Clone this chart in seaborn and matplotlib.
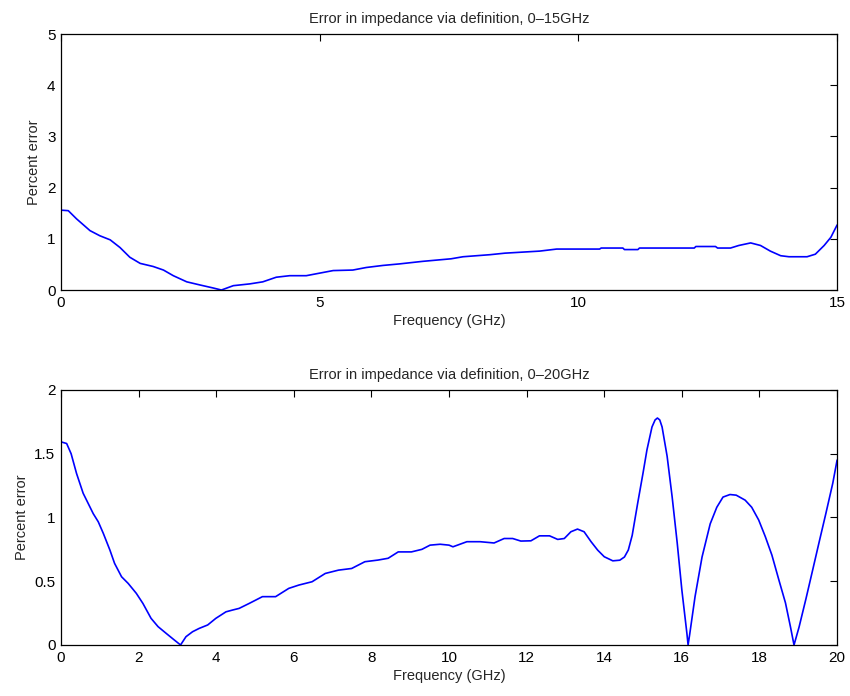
import numpy as np
import pandas as pd
import matplotlib
matplotlib.use("Agg")
import matplotlib.pyplot as plt
import seaborn as sns

# ---- data: 0-15 GHz run ----
freq_15 = [0.0, 0.14, 0.3, 0.56, 0.75, 0.95, 1.14, 1.33, 1.53, 1.78, 1.98, 2.17, 2.43, 2.68,
           2.94, 3.1, 3.33, 3.65, 3.9, 4.16, 4.42, 4.74, 5.0, 5.26, 5.64, 5.9, 6.22, 6.54,
           6.99, 7.54, 7.77, 8.29, 8.58, 9.25, 9.58, 10.41, 10.44, 10.86, 10.89, 11.15, 11.18,
           12.24, 12.27, 12.65, 12.69, 12.94, 13.1, 13.33, 13.52, 13.71, 13.91, 14.07, 14.42,
           14.58, 14.75, 14.88, 15.0]
err_15 = [1.56, 1.55, 1.39, 1.16, 1.06, 0.98, 0.83, 0.64, 0.52, 0.46, 0.39, 0.28, 0.16, 0.10,
          0.04, 0.0, 0.085, 0.12, 0.16, 0.25, 0.28, 0.28, 0.33, 0.38, 0.39, 0.44, 0.48, 0.51,
          0.56, 0.61, 0.65, 0.69, 0.72, 0.76, 0.80, 0.80, 0.82, 0.82, 0.79, 0.79, 0.82,
          0.82, 0.85, 0.85, 0.82, 0.82, 0.87, 0.92, 0.87, 0.76, 0.67, 0.65, 0.65,
          0.70, 0.87, 1.03, 1.27]

# ---- data: 0-20 GHz run ----
freq_20 = [0.0, 0.145, 0.26, 0.4, 0.57, 0.7, 0.83, 0.96, 1.09, 1.26, 1.38, 1.56, 1.73, 1.94,
           2.11, 2.32, 2.5, 2.71, 2.92, 3.08, 3.22, 3.39, 3.56, 3.78, 3.99, 4.25, 4.42, 4.59,
           4.85, 5.19, 5.53, 5.87, 6.13, 6.47, 6.81, 7.15, 7.49, 7.83, 8.17, 8.43, 8.69, 9.03,
           9.3, 9.51, 9.77, 10.0, 10.1, 10.46, 10.8, 11.16, 11.42, 11.64, 11.85, 12.11, 12.33,
           12.59, 12.8, 12.97, 13.14, 13.31, 13.48, 13.66, 13.83, 14.0, 14.22, 14.4, 14.52,
           14.62, 14.72, 14.86, 15.0, 15.1, 15.23, 15.31, 15.37, 15.43, 15.49, 15.62, 15.75,
           15.88, 16.0, 16.13, 16.16, 16.2, 16.34, 16.52, 16.73, 16.9, 17.06, 17.24, 17.4,
           17.63, 17.8, 17.98, 18.15, 18.32, 18.5, 18.67, 18.8, 18.89, 19.02, 19.2, 19.37,
           19.54, 19.71, 19.89, 20.0]
err_20 = [1.593, 1.58, 1.50, 1.345, 1.19, 1.11, 1.03, 0.966, 0.875, 0.744, 0.64, 0.535, 0.483,
          0.405, 0.326, 0.209, 0.144, 0.091, 0.039, 0.0, 0.065, 0.104, 0.13, 0.157, 0.209,
          0.26, 0.274, 0.287, 0.326, 0.379, 0.379, 0.444, 0.47, 0.496, 0.561, 0.587, 0.60,
          0.653, 0.666, 0.68, 0.73, 0.73, 0.75, 0.783, 0.79, 0.783, 0.77, 0.81, 0.81, 0.80,
          0.835, 0.835, 0.815, 0.817, 0.856, 0.856, 0.828, 0.835, 0.888, 0.909, 0.888, 0.81,
          0.744, 0.692, 0.66, 0.665, 0.69,
          0.745, 0.86, 1.11, 1.35, 1.53, 1.71, 1.765, 1.78, 1.765, 1.71, 1.48, 1.16,
          0.80, 0.43, 0.09, 0.0, 0.08, 0.38, 0.69, 0.95, 1.08, 1.16, 1.18, 1.175,
          1.136, 1.08, 0.98, 0.85, 0.705, 0.51, 0.33, 0.14, 0.0, 0.14, 0.365, 0.587,
          0.81, 1.03, 1.27, 1.45]

titles = ["Error in impedance via definition, 0\u201315GHz",
          "Error in impedance via definition, 0\u201320GHz"]
xlabel = "Frequency (GHz)"
ylabel = "Percent error"
xticks_top = [0, 5, 10, 15]
yticks_top = [0, 1, 2, 3, 4, 5]
xticks_bot = [0, 2, 4, 6, 8, 10, 12, 14, 16, 18, 20]
yticks_bot = [0, 0.5, 1, 1.5, 2]
ytick_labels_bot = ["0", "0.5", "1", "1.5", "2"]

sns.set_theme(style="white")
plt.rcParams["font.family"] = ["Liberation Sans", "DejaVu Sans"]

fig = plt.figure(figsize=(8.5, 6.96), dpi=100)
ax1 = fig.add_axes([0.0718, 0.5833, 0.913, 0.3678])
ax2 = fig.add_axes([0.0718, 0.0733, 0.913, 0.3664])

df1 = pd.DataFrame({"f": freq_15, "e": err_15})
df2 = pd.DataFrame({"f": freq_20, "e": err_20})

for ax, df, title, xt, yt, xl, yl in [
    (ax1, df1, titles[0], xticks_top, yticks_top, (0, 15), (0, 5)),
    (ax2, df2, titles[1], xticks_bot, yticks_bot, (0, 20), (0, 2)),
]:
    sns.lineplot(data=df, x="f", y="e", ax=ax, color="#0000ff", linewidth=1.2)
    ax.set_xlim(*xl)
    ax.set_ylim(*yl)
    ax.set_xticks(xt)
    ax.set_yticks(yt)
    ax.set_title(title, fontsize=10.5, pad=8)
    ax.set_xlabel(xlabel, fontsize=10.5, labelpad=3)
    ax.set_ylabel(ylabel, fontsize=10.5, labelpad=4)
    ax.tick_params(direction="in", length=5, width=0.8, top=True, right=True,
                   labelsize=11, colors="black", pad=4)
    for s in ax.spines.values():
        s.set_color("black")
        s.set_linewidth(0.9)
        s.set_visible(True)

ax2.set_yticklabels(ytick_labels_bot)

fig.savefig("out.png", dpi=100, facecolor="white")
